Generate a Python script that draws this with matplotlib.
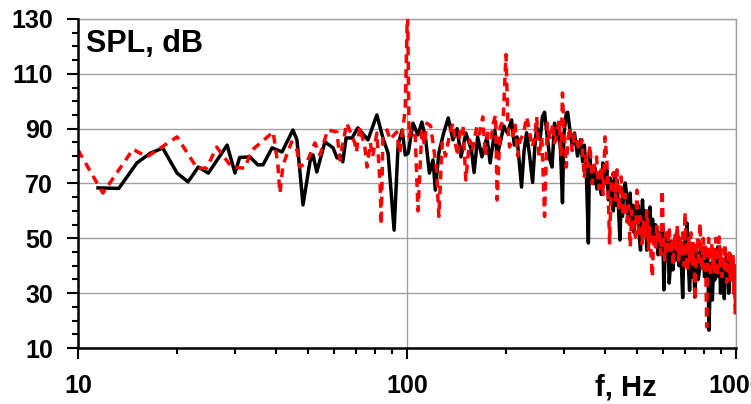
import matplotlib
matplotlib.use("Agg")
import matplotlib.pyplot as plt
from matplotlib.ticker import MultipleLocator, LogLocator, FixedLocator, NullFormatter

plt.rcParams['font.family'] = ['Liberation Sans', 'DejaVu Sans']

# black spectrum
black_f = [11.5, 13.3, 15.1, 16.6, 18.1, 20.0, 21.6, 23.2, 24.9, 28.4,
           30.0, 31.0, 33.3, 35.2, 36.5, 38.9, 41.7, 45.0, 46.3, 48.3,
           50.7, 51.8, 53.2, 56.3, 59.6, 61.3, 62.5, 63.8, 65.3, 68.1,
           70.9, 76.1, 81.0, 84.5, 87.6, 91.4, 94.0, 96.7, 98.8, 100.9,
           104.3, 108, 111, 114, 117, 120, 122, 125, 129, 133.5,
           138, 142, 146, 151, 157, 160, 164, 169, 175, 179,
           185, 188, 192, 197, 202, 208, 212, 216, 223, 227,
           231, 236, 241, 245, 248, 254, 258, 262, 267, 272,
           276, 281, 284, 289, 293, 297, 300, 305, 308, 312,
           318, 323, 330, 337, 342, 346, 351, 356, 359, 363,
           366, 369, 372, 378, 385, 390, 394, 400, 405, 410,
           415, 420, 424, 428, 432, 435, 440, 444, 448, 452,
           456, 461, 466, 470, 474, 477, 482, 487, 491, 495,
           500, 505, 509, 513, 517, 520, 525, 530, 536, 541,
           548, 553, 558, 563, 569, 575, 580, 586, 593, 599,
           604, 611, 616, 621, 627, 632, 637, 643, 648, 654,
           660, 667, 672, 678, 684, 689, 694, 700, 705, 710,
           716, 723, 729, 735, 742, 750, 756, 762, 768, 775,
           781, 789, 797, 803, 809, 815, 821, 828, 835, 842,
           848, 855, 862, 868, 874, 880, 886, 892, 898, 904,
           910, 916, 922, 928, 935, 941, 946, 951, 957, 962,
           968, 973, 979, 984, 990, 995, 1000]
black_spl = [68.4, 68.2, 77.5, 81.1, 82.9, 73.8, 70.6, 76.0, 73.8, 84.0,
             73.8, 79.5, 79.7, 76.8, 76.8, 83.0, 81.5, 89.5, 85.9, 62.2,
             77.9, 80.4, 74.2, 85.2, 83.0, 79.3, 80.4, 77.9, 86.6, 86.6,
             90.3, 85.9, 95.0, 86.6, 81.1, 53.0, 84.0, 89.5, 80.4, 81.1,
             92.0, 87.7, 92.4, 86, 73.8, 78.6, 67.6, 81.1, 88, 93.9,
             85.9, 90, 79.7, 88.4, 82.2, 74, 87, 79.7, 87, 77.5,
             89.5, 80, 84.8, 91, 88.4, 93.2, 84, 87, 68.7, 82,
             88.5, 80, 70.4, 84, 90.6, 86, 94.3, 96, 87, 78.6,
             76, 92, 85.9, 90, 82, 63, 88, 95.7, 96, 90.6,
             84, 88.4, 80, 86, 78, 84, 74, 48.3, 81.5, 72,
             76, 70, 76, 68, 72.4, 66, 77.5, 70, 75, 64,
             72, 68.7, 60, 73.8, 62, 71.3, 60, 49.4, 64, 58,
             68, 70.2, 65, 56, 63, 66.5, 54, 62, 52, 60,
             56, 62, 50, 45.7, 58, 64, 54, 60, 45.7, 56,
             61.4, 50, 57, 48, 55, 54.1, 44, 52, 45.7, 54,
             31.2, 50, 42, 52, 33.7, 40, 49, 38.5, 47, 42,
             52, 50.5, 40, 46, 38, 28.4, 44, 50, 40, 55.6,
             42, 31, 44, 36, 48, 28.6, 38, 45, 35, 38.5,
             47, 40, 44.6, 36, 42, 38, 45, 16.5, 33, 41,
             27.5, 40, 34.8, 42, 36, 46.8, 38, 44, 30, 40,
             34.8, 42, 28, 38, 43.2, 35, 40, 30, 38.5, 44,
             36, 40, 42.1, 34, 40, 32, 35.9]

# red spectrum
red_f = [10.0, 11.9, 14.7, 16.2, 20.0, 23.0, 24.6, 26.4, 29.3, 32.1,
         33.8, 36.2, 39.2, 40.5, 41.1, 42.0, 44.6, 46.3, 47.2, 49.7,
         52.5, 54.4, 57.4, 61.3, 62.5, 65.6, 69.4, 70.2, 71.9, 74.5,
         75.6, 77.4, 78.6, 81.0, 82.9, 83.5, 84.5, 87.0, 88.8, 93.0,
         95.0, 98.8, 100.4, 101.5, 103, 106, 108, 111, 113, 115,
         118, 120, 123, 125, 128, 131, 135, 138, 140, 143,
         145, 148, 151, 155, 158, 163, 166, 170, 173, 176,
         180, 183, 186, 188, 192, 196, 200, 203, 205, 209,
         213, 217, 221, 226, 231, 235, 240, 244, 248, 252,
         257, 262, 267, 270, 274, 277, 281, 285, 290, 294,
         297, 300, 305, 308, 312,
         318, 323, 334, 340, 346, 350, 354, 360, 366, 372,
         377, 383, 390, 395, 400, 405, 410, 413, 418, 424,
         430, 435, 441, 448, 454, 460, 466, 472, 477, 483,
         489, 495, 500, 506, 512, 518, 524, 530, 536, 542,
         548, 552, 557, 563, 569, 575, 580, 586, 591, 597,
         602, 608, 614, 620, 627, 633, 639, 645, 652, 658,
         664, 670, 676, 683, 689, 695, 700, 706, 712, 718,
         724, 730, 737, 744, 752, 758, 764, 770, 778, 784,
         790, 796, 802, 808, 815, 820, 826, 832, 838, 844,
         850, 856, 862, 868, 874, 880, 886, 890, 896, 902,
         908, 914, 920, 926, 932, 938, 944, 950, 956, 962,
         968, 974, 980, 985, 990, 995, 1000]
red_spl = [82.2, 66.5, 82.5, 79.7, 87, 75.6, 75.6, 83.3, 76, 75.6,
           82.2, 85.2, 88.8, 76.8, 66.5, 76.8, 85.2, 82.2, 76, 77.9,
           84.8, 80.4, 89.5, 88.8, 78.6, 92, 84.8, 81.5, 90.6, 83,
           76, 84.8, 79.7, 88.4, 69.4, 55, 87, 89.5, 86, 88.8,
           81, 97, 136, 87, 90, 87, 60, 89.5, 84, 92,
           91, 84.8, 75, 58, 84.8, 80, 88.4, 92, 84.8, 80,
           89.5, 91, 71.3, 85.9, 82, 90.6, 88, 94.3, 80, 88.4,
           86, 92, 95, 64, 90.6, 93, 117, 90, 83.3, 86,
           92, 80, 85.9, 88, 94.3, 90, 83.3, 86, 94.3, 80,
           87, 58, 92, 88, 86, 92, 84.8, 88, 93, 80,
           103, 90, 76, 84, 90.6,
           82, 88, 82.2, 86, 72, 80, 76, 84, 70, 78,
           79.7, 68, 76, 66, 87, 78.6, 62, 48.3, 70, 74,
           64, 75, 60, 72.4, 58, 66, 56, 62, 47, 60,
           55, 50.5, 67.6, 52, 58, 48, 56, 50, 60, 46,
           54, 44, 35.9, 52, 46, 55, 48, 53, 44, 67.6,
           50, 42, 52, 46, 54, 44, 50, 40, 52, 46,
           55, 42, 50, 44, 52, 40, 59.6, 46, 38, 50,
           42, 52, 40, 48, 27.5, 44, 50, 40, 55.6, 44,
           38, 50, 42, 48, 17.7, 40, 50, 42, 36, 48,
           40, 46, 38, 50, 42, 36, 46, 50.5, 40, 46,
           36, 44, 38, 48, 40, 34, 44, 38, 46, 34,
           42, 36, 44, 30, 40, 22.8, 38]

y_ticks = [10, 30, 50, 70, 90, 110, 130]
x_ticks = [10, 100, 1000]
x_labels = ['10', '100', '1000']

fig = plt.figure(figsize=(7.51, 4.04), dpi=100)
ax = fig.add_axes([0.1039, 0.1386, 0.876, 0.8144])

ax.plot(black_f, black_spl, color='black', lw=2.5, zorder=3)
ax.plot(red_f, red_spl, color='#ff0000', lw=2.5, dashes=(2.5, 1.8), zorder=4)

ax.set_xscale('log')
ax.set_xlim(10, 1000)
ax.set_ylim(10, 130)

ax.xaxis.set_major_locator(FixedLocator(x_ticks))
ax.set_xticklabels(x_labels)
ax.xaxis.set_minor_locator(LogLocator(base=10, subs=range(2, 10)))
ax.xaxis.set_minor_formatter(NullFormatter())
ax.set_yticks(y_ticks)
ax.yaxis.set_minor_locator(MultipleLocator(5))

ax.grid(True, which='major', color='#a0a0a0', lw=1.0, zorder=1)

for s in ['left', 'bottom']:
    ax.spines[s].set_linewidth(1.8)
    ax.spines[s].set_zorder(5)
for s in ['top', 'right']:
    ax.spines[s].set_color('#a0a0a0')
    ax.spines[s].set_linewidth(1.0)

ax.tick_params(which='major', direction='out', length=8, width=1.5,
               labelsize=18, pad=10, top=False, right=False)
ax.tick_params(which='minor', direction='out', length=4.5, width=1.5,
               top=False, right=False)
for lab in ax.get_xticklabels() + ax.get_yticklabels():
    lab.set_fontweight('bold')
ax.tick_params(axis='x', which='major', pad=11)

ax.text(0.012, 0.90, 'SPL, dB', transform=ax.transAxes, fontsize=22,
        fontweight='bold', va='baseline', ha='left', zorder=6)
fig.text(0.792, 0.022, 'f, Hz', fontsize=21, fontweight='bold',
         va='baseline', ha='left')

fig.savefig('out.png', dpi=100)
